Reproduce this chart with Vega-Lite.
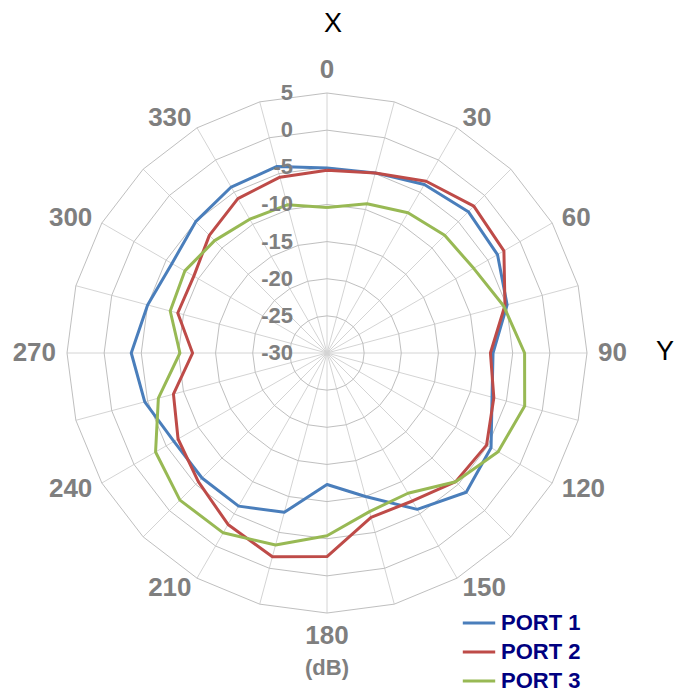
{
  "$schema": "https://vega.github.io/schema/vega-lite/v6.json",
  "width": 678,
  "height": 698,
  "autosize": {"type": "none"},
  "padding": 0,
  "config": {"view": {"stroke": null}, "font": "Liberation Sans"},
  "datasets": {
    "ports": [
      {"port": "PORT 1", "angle": 0, "value": -5.1},
      {"port": "PORT 1", "angle": 15, "value": -4.9},
      {"port": "PORT 1", "angle": 30, "value": -3.8},
      {"port": "PORT 1", "angle": 45, "value": -3.1},
      {"port": "PORT 1", "angle": 60, "value": -3.5},
      {"port": "PORT 1", "angle": 75, "value": -4.9},
      {"port": "PORT 1", "angle": 90, "value": -7.65},
      {"port": "PORT 1", "angle": 105, "value": -7.0},
      {"port": "PORT 1", "angle": 120, "value": -4.5},
      {"port": "PORT 1", "angle": 135, "value": -3.5},
      {"port": "PORT 1", "angle": 150, "value": -5.7},
      {"port": "PORT 1", "angle": 165, "value": -10.0},
      {"port": "PORT 1", "angle": 180, "value": -12.3},
      {"port": "PORT 1", "angle": 195, "value": -7.8},
      {"port": "PORT 1", "angle": 210, "value": -6.2},
      {"port": "PORT 1", "angle": 225, "value": -6.2},
      {"port": "PORT 1", "angle": 240, "value": -6.2},
      {"port": "PORT 1", "angle": 255, "value": -4.6},
      {"port": "PORT 1", "angle": 270, "value": -3.65},
      {"port": "PORT 1", "angle": 285, "value": -5.0},
      {"port": "PORT 1", "angle": 300, "value": -5.9},
      {"port": "PORT 1", "angle": 315, "value": -5.0},
      {"port": "PORT 1", "angle": 330, "value": -4.2},
      {"port": "PORT 1", "angle": 345, "value": -4.0},
      {"port": "PORT 1", "angle": 360, "value": -5.1},
      {"port": "PORT 2", "angle": 0, "value": -5.4},
      {"port": "PORT 2", "angle": 15, "value": -4.9},
      {"port": "PORT 2", "angle": 30, "value": -3.3},
      {"port": "PORT 2", "angle": 45, "value": -2.05},
      {"port": "PORT 2", "angle": 60, "value": -2.5},
      {"port": "PORT 2", "angle": 75, "value": -5.2},
      {"port": "PORT 2", "angle": 90, "value": -8.0},
      {"port": "PORT 2", "angle": 105, "value": -6.75},
      {"port": "PORT 2", "angle": 120, "value": -5.2},
      {"port": "PORT 2", "angle": 135, "value": -5.5},
      {"port": "PORT 2", "angle": 150, "value": -7.0},
      {"port": "PORT 2", "angle": 165, "value": -7.1},
      {"port": "PORT 2", "angle": 180, "value": -2.6},
      {"port": "PORT 2", "angle": 195, "value": -1.6},
      {"port": "PORT 2", "angle": 210, "value": -3.35},
      {"port": "PORT 2", "angle": 225, "value": -5.5},
      {"port": "PORT 2", "angle": 240, "value": -6.85},
      {"port": "PORT 2", "angle": 255, "value": -8.6},
      {"port": "PORT 2", "angle": 270, "value": -11.9},
      {"port": "PORT 2", "angle": 285, "value": -9.2},
      {"port": "PORT 2", "angle": 300, "value": -9.3},
      {"port": "PORT 2", "angle": 315, "value": -7.6},
      {"port": "PORT 2", "angle": 330, "value": -6.0},
      {"port": "PORT 2", "angle": 345, "value": -5.5},
      {"port": "PORT 2", "angle": 360, "value": -5.4},
      {"port": "PORT 3", "angle": 0, "value": -10.4},
      {"port": "PORT 3", "angle": 15, "value": -9.2},
      {"port": "PORT 3", "angle": 30, "value": -8.2},
      {"port": "PORT 3", "angle": 45, "value": -7.6},
      {"port": "PORT 3", "angle": 60, "value": -7.2},
      {"port": "PORT 3", "angle": 75, "value": -5.4},
      {"port": "PORT 3", "angle": 90, "value": -3.4},
      {"port": "PORT 3", "angle": 105, "value": -2.45},
      {"port": "PORT 3", "angle": 120, "value": -3.4},
      {"port": "PORT 3", "angle": 135, "value": -5.5},
      {"port": "PORT 3", "angle": 150, "value": -8.2},
      {"port": "PORT 3", "angle": 165, "value": -7.9},
      {"port": "PORT 3", "angle": 180, "value": -5.4},
      {"port": "PORT 3", "angle": 195, "value": -3.25},
      {"port": "PORT 3", "angle": 210, "value": -2.05},
      {"port": "PORT 3", "angle": 225, "value": -2.0},
      {"port": "PORT 3", "angle": 240, "value": -3.35},
      {"port": "PORT 3", "angle": 255, "value": -6.5},
      {"port": "PORT 3", "angle": 270, "value": -10.2},
      {"port": "PORT 3", "angle": 285, "value": -8.15},
      {"port": "PORT 3", "angle": 300, "value": -7.9},
      {"port": "PORT 3", "angle": 315, "value": -8.6},
      {"port": "PORT 3", "angle": 330, "value": -9.2},
      {"port": "PORT 3", "angle": 345, "value": -9.35},
      {"port": "PORT 3", "angle": 360, "value": -10.4}
    ],
    "rings": [
      {"level": -25, "angle": [0,15,30,45,60,75,90,105,120,135,150,165,180,195,210,225,240,255,270,285,300,315,330,345,360]},
      {"level": -20, "angle": [0,15,30,45,60,75,90,105,120,135,150,165,180,195,210,225,240,255,270,285,300,315,330,345,360]},
      {"level": -15, "angle": [0,15,30,45,60,75,90,105,120,135,150,165,180,195,210,225,240,255,270,285,300,315,330,345,360]},
      {"level": -10, "angle": [0,15,30,45,60,75,90,105,120,135,150,165,180,195,210,225,240,255,270,285,300,315,330,345,360]},
      {"level": -5, "angle": [0,15,30,45,60,75,90,105,120,135,150,165,180,195,210,225,240,255,270,285,300,315,330,345,360]},
      {"level": 0, "angle": [0,15,30,45,60,75,90,105,120,135,150,165,180,195,210,225,240,255,270,285,300,315,330,345,360]},
      {"level": 5, "angle": [0,15,30,45,60,75,90,105,120,135,150,165,180,195,210,225,240,255,270,285,300,315,330,345,360]}
    ],
    "spokes": [
      {"angle": 0}, {"angle": 15}, {"angle": 30}, {"angle": 45}, {"angle": 60}, {"angle": 75},
      {"angle": 90}, {"angle": 105}, {"angle": 120}, {"angle": 135}, {"angle": 150}, {"angle": 165},
      {"angle": 180}, {"angle": 195}, {"angle": 210}, {"angle": 225}, {"angle": 240}, {"angle": 255},
      {"angle": 270}, {"angle": 285}, {"angle": 300}, {"angle": 315}, {"angle": 330}, {"angle": 345}
    ],
    "angleLabels": [
      {"angle": 0, "label": "0"}, {"angle": 30, "label": "30"}, {"angle": 60, "label": "60"},
      {"angle": 90, "label": "90"}, {"angle": 120, "label": "120"}, {"angle": 150, "label": "150"},
      {"angle": 180, "label": "180"}, {"angle": 210, "label": "210"}, {"angle": 240, "label": "240"},
      {"angle": 270, "label": "270"}, {"angle": 300, "label": "300"}, {"angle": 330, "label": "330"}
    ],
    "levelLabels": [
      {"level": -30}, {"level": -25}, {"level": -20}, {"level": -15},
      {"level": -10}, {"level": -5}, {"level": 0}, {"level": 5}
    ],
    "notes": [
      {"note": "X"}, {"note": "Y"}, {"note": "(dB)"}
    ]
  },
  "layer": [
    {
      "data": {"name": "spokes"},
      "transform": [
        {"calculate": "0", "as": "ox"},
        {"calculate": "0", "as": "oy"},
        {"calculate": "35*sin(datum.angle*PI/180)", "as": "sx"},
        {"calculate": "35*cos(datum.angle*PI/180)", "as": "sy"}
      ],
      "mark": {"type": "rule", "stroke": "#d4d4d4", "strokeWidth": 1},
      "encoding": {
        "x": {"field": "ox", "type": "quantitative", "scale": {"domain": [-44.02, 47.25], "nice": false, "zero": false}, "axis": null},
        "y": {"field": "oy", "type": "quantitative", "scale": {"domain": [-46.44, 47.52], "nice": false, "zero": false}, "axis": null},
        "x2": {"field": "sx"},
        "y2": {"field": "sy"}
      }
    },
    {
      "data": {"name": "rings"},
      "transform": [
        {"flatten": ["angle"]},
        {"calculate": "(datum.level+30)*sin(datum.angle*PI/180)", "as": "px"},
        {"calculate": "(datum.level+30)*cos(datum.angle*PI/180)", "as": "py"}
      ],
      "mark": {"type": "line", "stroke": "#bfbfbf", "strokeWidth": 1},
      "encoding": {
        "x": {"field": "px", "type": "quantitative"},
        "y": {"field": "py", "type": "quantitative"},
        "detail": {"field": "level", "type": "nominal"},
        "order": {"field": "angle", "type": "quantitative"}
      }
    },
    {
      "data": {"name": "ports"},
      "transform": [
        {"calculate": "(datum.value+30)*sin(datum.angle*PI/180)", "as": "px"},
        {"calculate": "(datum.value+30)*cos(datum.angle*PI/180)", "as": "py"}
      ],
      "mark": {"type": "line", "strokeWidth": 3, "strokeJoin": "round"},
      "encoding": {
        "x": {"field": "px", "type": "quantitative"},
        "y": {"field": "py", "type": "quantitative"},
        "order": {"field": "angle", "type": "quantitative"},
        "color": {
          "field": "port",
          "type": "nominal",
          "scale": {"domain": ["PORT 1", "PORT 2", "PORT 3"], "range": ["#4a7ebb", "#be4b48", "#98b954"]},
          "legend": {
            "orient": "none",
            "legendX": 461,
            "legendY": 605,
            "title": null,
            "padding": 0,
            "symbolType": "stroke",
            "symbolStrokeWidth": 3,
            "symbolSize": 1050,
            "labelFont": "Liberation Sans",
            "labelFontSize": 22,
            "labelFontWeight": "bold",
            "labelColor": "#000080",
            "labelOffset": 4,
            "rowPadding": 0
          }
        }
      }
    },
    {
      "data": {"name": "angleLabels"},
      "transform": [
        {"calculate": "round(sin(datum.angle*PI/180)*1e6)/1e6", "as": "s"},
        {"calculate": "round(cos(datum.angle*PI/180)*1e6)/1e6", "as": "c"},
        {"calculate": "datum.s > 0.01 ? 1 : (datum.s < -0.01 ? -1 : 0)", "as": "hs"},
        {"calculate": "datum.c > 0.7 ? 1 : (datum.c < -0.7 ? -1 : 0)", "as": "vs"},
        {"calculate": "datum.vs == 0 ? 11*datum.c : (datum.hs == 0 ? 13*datum.vs : 0)", "as": "ey"},
        {"calculate": "(260*datum.s + datum.hs*7.23*length(datum.label) + 11*datum.s)/7.4286", "as": "px"},
        {"calculate": "(260*datum.c + datum.vs*9.6 + datum.ey)/7.4286", "as": "py"}
      ],
      "mark": {"type": "text", "fontSize": 26, "fontWeight": "bold", "fill": "#7f7f7f", "align": "center", "baseline": "middle", "font": "Liberation Sans"},
      "encoding": {
        "x": {"field": "px", "type": "quantitative"},
        "y": {"field": "py", "type": "quantitative"},
        "text": {"field": "label", "type": "nominal"}
      }
    },
    {
      "data": {"name": "levelLabels"},
      "transform": [
        {"calculate": "0", "as": "px"},
        {"calculate": "datum.level+30", "as": "py"},
        {"calculate": "toString(datum.level)", "as": "txt"}
      ],
      "mark": {"type": "text", "fontSize": 22, "fontWeight": "bold", "fill": "#7f7f7f", "align": "right", "baseline": "middle", "dx": -34, "font": "Liberation Sans"},
      "encoding": {
        "x": {"field": "px", "type": "quantitative"},
        "y": {"field": "py", "type": "quantitative"},
        "text": {"field": "txt", "type": "nominal"}
      }
    },
    {
      "data": {"name": "notes"},
      "transform": [
        {"filter": "datum.note == '(dB)'"},
        {"calculate": "0", "as": "px"},
        {"calculate": "-42.4", "as": "py"}
      ],
      "mark": {"type": "text", "fontSize": 22, "fontWeight": "bold", "fill": "#7f7f7f", "align": "center", "baseline": "middle", "font": "Liberation Sans"},
      "encoding": {
        "x": {"field": "px", "type": "quantitative"},
        "y": {"field": "py", "type": "quantitative"},
        "text": {"field": "note", "type": "nominal"}
      }
    },
    {
      "data": {"name": "notes"},
      "transform": [
        {"filter": "datum.note != '(dB)'"},
        {"calculate": "datum.note == 'X' ? 0.81 : 45.5", "as": "px"},
        {"calculate": "datum.note == 'X' ? 44.3 : 0.13", "as": "py"}
      ],
      "mark": {"type": "text", "fontSize": 27, "fill": "#000000", "align": "center", "baseline": "middle", "font": "Liberation Sans"},
      "encoding": {
        "x": {"field": "px", "type": "quantitative"},
        "y": {"field": "py", "type": "quantitative"},
        "text": {"field": "note", "type": "nominal"}
      }
    }
  ]
}
